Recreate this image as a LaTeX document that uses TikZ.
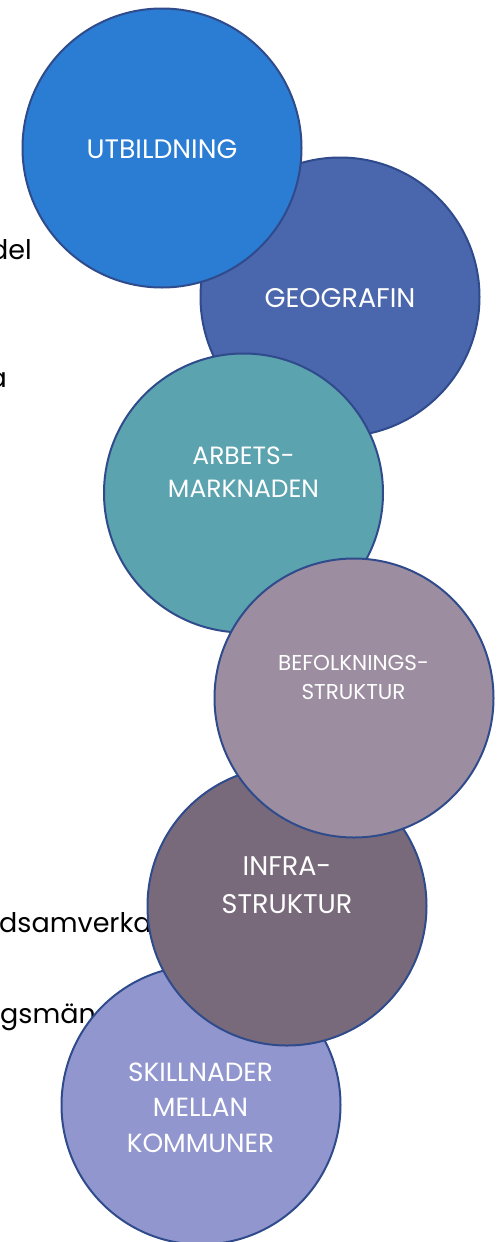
\documentclass[tikz,border=0pt]{standalone}
\usepackage{fontspec}
\setmainfont{Poppins}
\definecolor{cUtb}{RGB}{42,125,211}
\definecolor{cGeo}{RGB}{74,102,172}
\definecolor{cArb}{RGB}{91,163,174}
\definecolor{cBef}{RGB}{156,142,160}
\definecolor{cInf}{RGB}{120,106,123}
\definecolor{cSki}{RGB}{145,151,206}
\definecolor{cEdge}{RGB}{47,75,140}
\begin{document}
\begin{tikzpicture}[x=1pt,y=-1pt,
  circ/.style={circle,draw=cEdge,line width=2pt,minimum size=279pt,inner sep=0pt},
  lbl/.style={text=white,align=center,inner sep=0pt},
  bgtext/.style={text=black,inner sep=0pt,font=\fontsize{27}{32}\selectfont}]
\useasboundingbox (0,0) rectangle (500,1242);
% background text partly hidden
\node[bgtext,anchor=base east] (t1) at (32,259) {del};
\node[bgtext,anchor=base east] (t2) at (7,387) {a};
\node[bgtext,anchor=base west] (t3) at (-1,932) {dsamverka};
\node[bgtext,anchor=base west] (t4) at (0,1023) {gsmäng};
% circles
\node[circ,fill=cGeo] (geo) at (340,297) {};
\node[lbl,font=\fontsize{27}{30}\selectfont] (geoT) at (340,298.5) {GEOGRAFIN};
\node[circ,fill=cUtb] (utb) at (162,148) {};
\node[lbl,font=\fontsize{26.7}{30}\selectfont] (utbT) at (162,149.5) {UTBILDNING};
\node[circ,fill=cArb] (arb) at (243.5,493) {};
\node[lbl,font=\fontsize{25}{32.5}\selectfont] (arbT) at (243.5,472) {ARBETS-\\MARKNADEN};
\node[circ,fill=cSki] (ski) at (201,1105) {};
\node[lbl,font=\fontsize{26.3}{35.5}\selectfont] (skiT) at (200.5,1107.5) {SKILLNADER\\MELLAN\\KOMMUNER};
\node[circ,fill=cInf] (inf) at (287,906) {};
\node[lbl,font=\fontsize{27}{38}\selectfont] (infT) at (287,885) {INFRA-\\STRUKTUR};
\node[circ,fill=cBef] (bef) at (354,698) {};
\node[lbl,font=\fontsize{21.5}{29}\selectfont] (befT) at (353.5,677.5) {BEFOLKNINGS-\\STRUKTUR};
\end{tikzpicture}
\end{document}
